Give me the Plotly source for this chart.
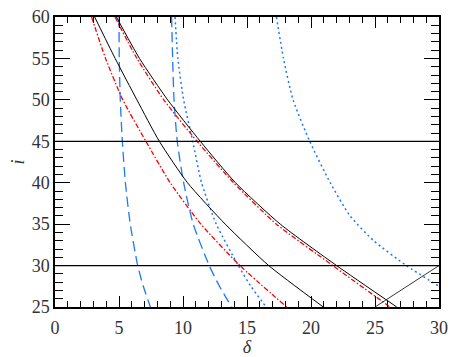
import plotly.graph_objects as go

# inclination grid (i) and delta values for each curve
i_grid = [60, 55, 50, 45, 40, 35, 30, 25]
black1_d = [3.1, 4.7, 6.4, 8.15, 10.35, 13.3, 16.7, 20.96]
black2_d = [4.8, 6.6, 8.8, 11.35, 14.1, 17.6, 22.0, 26.7]
red1_d = [2.86, 3.95, 5.3, 7.1, 9.0, 11.4, 14.45, 18.1]
red2_d = [4.69, 6.4, 8.5, 11.1, 13.95, 17.3, 21.7, 26.17]

i_blue = [60, 55, 50, 45, 40, 35, 30, 27.5, 25]
bdash1_d = [5.0, 5.02, 5.1, 5.26, 5.5, 5.88, 6.46, 6.9, 7.45]
bdash2_d = [9.11, 9.19, 9.3, 9.55, 10.05, 10.8, 12.05, 12.85, 13.8]
bdot1_d = [9.375, 9.6, 10.05, 10.76, 11.45, 12.6, 14.32, 15.3, 16.5]

i_bdot2 = [60, 55, 50, 45, 40, 36, 33, 30, 27.5]
bdot2_d = [17.3, 17.85, 18.6, 19.9, 21.5, 23.05, 24.9, 27.45, 30.0]

hline_i = [45, 30]
hline_d = [0, 30]
diag_d = [25, 30]
diag_i = [25, 30]

BLUE = "#1E78FF"
RED = "#FF0000"

fig = go.Figure()

def add(x, y, color, dash, width=1.2):
    fig.add_trace(go.Scatter(x=x, y=y, mode="lines",
                             line=dict(color=color, dash=dash, width=width, shape="spline", smoothing=0.6),
                             showlegend=False, hoverinfo="skip"))

add(bdash1_d, i_blue, BLUE, "10px,5px", 1.3)
add(bdash2_d, i_blue, BLUE, "10px,5px", 1.3)
add(bdot1_d, i_blue, BLUE, "2px,3px", 1.5)
add(bdot2_d, i_bdot2, BLUE, "2px,3px", 1.5)
add(red1_d, i_grid, RED, "5px,2px,1.5px,2px", 1.3)
add(red2_d, i_grid, RED, "5px,2px,1.5px,2px", 1.3)
add(black1_d, i_grid, "black", "solid", 1.0)
add(black2_d, i_grid, "black", "solid", 1.0)
for h in hline_i:
    fig.add_trace(go.Scatter(x=hline_d, y=[h, h], mode="lines", line=dict(color="black", width=1.2),
                             showlegend=False, hoverinfo="skip"))
fig.add_trace(go.Scatter(x=diag_d, y=diag_i, mode="lines", line=dict(color="black", width=0.8),
                         showlegend=False, hoverinfo="skip"))

tickfont = dict(family="Liberation Serif", size=18, color="#333333")
# page body has an 8px default margin, so margins are reduced by 8px on left/top
fig.update_layout(
    width=455, height=349,
    margin=dict(l=47, r=24, t=9, b=50),
    plot_bgcolor="white", paper_bgcolor="white",
    xaxis=dict(range=[0, 30], tickmode="linear", tick0=0, dtick=5, ticks="inside", ticklen=11,
               tickwidth=1.3, tickcolor="black", showline=True, linecolor="black", linewidth=1.5,
               mirror="ticks", showgrid=False, zeroline=False, tickfont=tickfont, automargin=False,
               ticklabelstandoff=4, ticklabeloverflow="allow",
               minor=dict(dtick=1, ticks="inside", ticklen=6, tickwidth=1.2, tickcolor="black", showgrid=False),
               title=dict(text="<i>δ</i>", font=dict(family="Liberation Serif", size=18, color="#333333"), standoff=5)),
    yaxis=dict(range=[25, 60], tickmode="linear", tick0=25, dtick=5, ticks="inside", ticklen=15,
               tickwidth=1.3, tickcolor="black", showline=True, linecolor="black", linewidth=1.5,
               mirror="ticks", showgrid=False, zeroline=False, tickfont=tickfont, automargin=False,
               ticklabeloverflow="allow",
               minor=dict(dtick=1, ticks="inside", ticklen=8, tickwidth=1.2, tickcolor="black", showgrid=False),
               title=dict(text="<i>i</i>", font=dict(family="Liberation Serif", size=18, color="#333333"), standoff=4)),
)

fig.write_html("out.html")
